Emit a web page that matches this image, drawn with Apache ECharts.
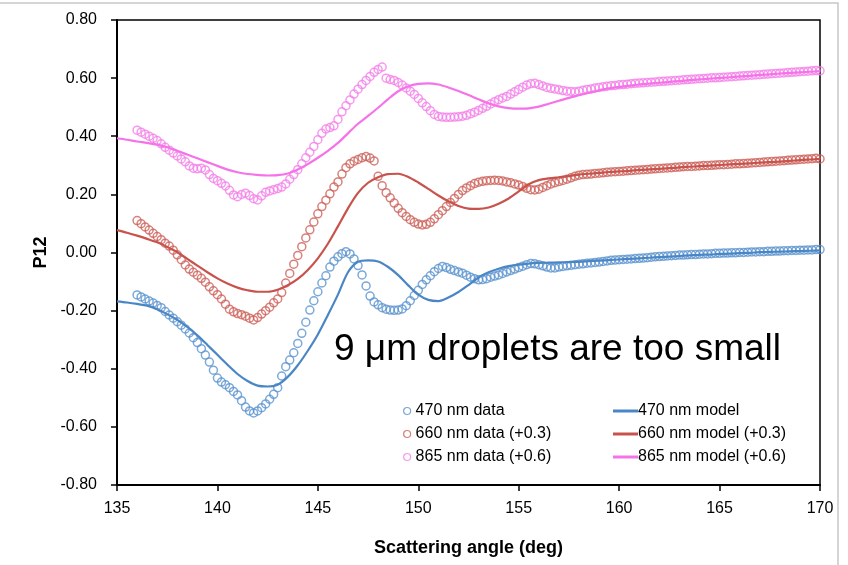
<!DOCTYPE html>
<html>
<head>
<meta charset="utf-8">
<script src="https://cdn.jsdelivr.net/npm/echarts@6/dist/echarts.min.js"></script>
<style>
html,body{margin:0;padding:0;background:#fff;}
#chart{width:848px;height:565px;}
</style>
</head>
<body>
<div id="chart"></div>
<script>
// ---- data ----
const seriesNames = ['470 nm data', '660 nm data (+0.3)', '865 nm data (+0.6)',
                     '470 nm model', '660 nm model (+0.3)', '865 nm model (+0.6)'];
const xTicks = [135, 140, 145, 150, 155, 160, 165, 170];
const yTicks = [-0.8, -0.6, -0.4, -0.2, 0, 0.2, 0.4, 0.6, 0.8];

// measured data: angles start at 136.0 deg, every 0.2 deg, up to 170.0 deg
const dataAngleStart = 136.0, dataAngleStep = 0.2;
const data470 = [
-0.146,-0.153,-0.160,-0.167,-0.174,-0.182,-0.190,-0.203,-0.215,-0.226,
-0.238,-0.250,-0.263,-0.277,-0.293,-0.310,-0.331,-0.353,-0.377,-0.405,
-0.432,-0.446,-0.455,-0.465,-0.478,-0.490,-0.510,-0.532,-0.545,-0.552,
-0.545,-0.534,-0.521,-0.505,-0.488,-0.465,-0.425,-0.393,-0.370,-0.345,
-0.313,-0.278,-0.240,-0.198,-0.166,-0.135,-0.105,-0.080,-0.050,-0.030,
-0.015,-0.004,0.003,-0.005,-0.022,-0.045,-0.077,-0.115,-0.150,-0.170,
-0.180,-0.190,-0.195,-0.198,-0.199,-0.198,-0.194,-0.183,-0.166,-0.148,
-0.130,-0.110,-0.094,-0.080,-0.066,-0.055,-0.048,-0.052,-0.058,-0.062,
-0.067,-0.071,-0.078,-0.085,-0.090,-0.094,-0.093,-0.090,-0.085,-0.081,
-0.077,-0.072,-0.067,-0.062,-0.057,-0.052,-0.047,-0.042,-0.038,-0.039,
-0.042,-0.046,-0.050,-0.053,-0.053,-0.050,-0.048,-0.046,-0.044,-0.042,
-0.040,-0.039,-0.037,-0.036,-0.034,-0.033,-0.031,-0.029,-0.027,-0.026,
-0.025,-0.024,-0.023,-0.022,-0.021,-0.020,-0.019,-0.018,-0.016,-0.015,
-0.014,-0.013,-0.012,-0.011,-0.010,-0.009,-0.009,-0.008,-0.007,-0.007,
-0.006,-0.005,-0.005,-0.004,-0.003,-0.003,-0.002,-0.002,-0.001,-0.001,
0.000,0.000,0.001,0.002,0.002,0.003,0.003,0.004,0.004,0.005,
0.005,0.006,0.006,0.007,0.007,0.008,0.008,0.009,0.009,0.010,
0.010];
const data660 = [
0.110,0.099,0.088,0.077,0.066,0.055,0.044,0.032,0.022,0.008,
-0.008,-0.025,-0.043,-0.057,-0.068,-0.078,-0.089,-0.102,-0.118,-0.132,
-0.145,-0.160,-0.178,-0.195,-0.204,-0.210,-0.214,-0.219,-0.226,-0.232,
-0.224,-0.212,-0.200,-0.188,-0.173,-0.160,-0.138,-0.105,-0.072,-0.040,
-0.010,0.020,0.050,0.078,0.105,0.133,0.158,0.180,0.202,0.225,
0.243,0.270,0.292,0.305,0.314,0.320,0.326,0.330,0.325,0.315,
0.262,0.230,0.206,0.188,0.170,0.152,0.137,0.124,0.113,0.104,
0.098,0.095,0.097,0.104,0.116,0.130,0.144,0.158,0.172,0.186,
0.200,0.213,0.222,0.230,0.237,0.242,0.245,0.247,0.248,0.249,
0.248,0.246,0.243,0.240,0.236,0.232,0.227,0.221,0.216,0.215,
0.218,0.224,0.230,0.236,0.240,0.244,0.248,0.252,0.257,0.262,
0.266,0.268,0.269,0.270,0.272,0.273,0.274,0.276,0.277,0.278,
0.279,0.280,0.281,0.282,0.283,0.284,0.285,0.286,0.287,0.288,
0.289,0.290,0.291,0.292,0.293,0.294,0.295,0.296,0.296,0.297,
0.298,0.299,0.299,0.300,0.301,0.302,0.302,0.303,0.304,0.305,
0.305,0.306,0.307,0.308,0.309,0.310,0.311,0.312,0.313,0.314,
0.315,0.316,0.317,0.318,0.319,0.320,0.321,0.322,0.323,0.324,
0.322];
const data865 = [
0.421,0.414,0.407,0.400,0.393,0.385,0.374,0.362,0.352,0.342,
0.332,0.322,0.312,0.298,0.290,0.288,0.290,0.284,0.268,0.255,
0.247,0.238,0.229,0.214,0.198,0.192,0.200,0.204,0.196,0.185,
0.181,0.195,0.207,0.212,0.216,0.220,0.225,0.236,0.252,0.268,
0.285,0.305,0.326,0.345,0.365,0.388,0.410,0.425,0.430,0.436,
0.458,0.484,0.505,0.525,0.545,0.562,0.578,0.592,0.606,0.620,
0.630,0.638,0.600,0.595,0.592,0.585,0.576,0.566,0.555,0.544,
0.530,0.515,0.502,0.488,0.475,0.468,0.466,0.465,0.465,0.466,
0.467,0.469,0.472,0.477,0.483,0.489,0.496,0.503,0.511,0.519,
0.526,0.532,0.537,0.545,0.553,0.561,0.569,0.576,0.581,0.582,
0.578,0.573,0.568,0.565,0.563,0.560,0.557,0.555,0.554,0.553,
0.555,0.558,0.561,0.563,0.566,0.568,0.570,0.572,0.574,0.575,
0.577,0.578,0.579,0.581,0.582,0.583,0.584,0.585,0.586,0.587,
0.588,0.589,0.590,0.591,0.592,0.593,0.594,0.595,0.596,0.597,
0.598,0.599,0.600,0.601,0.601,0.602,0.603,0.604,0.605,0.606,
0.607,0.608,0.609,0.610,0.611,0.612,0.613,0.614,0.615,0.616,
0.617,0.618,0.619,0.620,0.621,0.622,0.623,0.624,0.625,0.626,
0.625];

// model curves: angles start at 135.0 deg, every 0.5 deg, up to 170.0 deg
const modelAngleStart = 135.0, modelAngleStep = 0.5;
const model470 = [
-0.168,-0.172,-0.177,-0.183,-0.195,-0.212,-0.232,-0.256,-0.285,-0.318,
-0.352,-0.386,-0.418,-0.442,-0.458,-0.461,-0.455,-0.428,-0.388,-0.338,
-0.282,-0.215,-0.145,-0.068,-0.032,-0.027,-0.031,-0.050,-0.078,-0.113,
-0.145,-0.163,-0.167,-0.155,-0.136,-0.112,-0.086,-0.068,-0.056,-0.047,
-0.042,-0.038,-0.036,-0.035,-0.034,-0.033,-0.032,-0.030,-0.028,-0.026,
-0.024,-0.022,-0.020,-0.018,-0.016,-0.014,-0.012,-0.010,-0.008,-0.007,
-0.005,-0.004,-0.002,-0.001,0.001,0.002,0.003,0.004,0.005,0.006,
0.007];
const model660 = [
0.077,0.068,0.058,0.047,0.035,0.019,0.001,-0.022,-0.045,-0.068,
-0.089,-0.107,-0.121,-0.130,-0.135,-0.135,-0.128,-0.113,-0.091,-0.060,
-0.020,0.030,0.090,0.152,0.205,0.240,0.259,0.270,0.271,0.260,
0.241,0.219,0.196,0.176,0.160,0.151,0.150,0.155,0.168,0.186,
0.210,0.235,0.249,0.255,0.259,0.263,0.268,0.271,0.274,0.277,
0.279,0.281,0.284,0.286,0.288,0.290,0.293,0.295,0.297,0.299,
0.301,0.303,0.305,0.307,0.309,0.311,0.313,0.315,0.318,0.320,
0.322];
const model865 = [
0.393,0.388,0.382,0.377,0.371,0.362,0.350,0.337,0.324,0.311,
0.298,0.285,0.276,0.270,0.267,0.265,0.266,0.272,0.286,0.304,
0.326,0.350,0.377,0.410,0.443,0.470,0.498,0.528,0.555,0.572,
0.580,0.582,0.578,0.568,0.556,0.542,0.527,0.513,0.503,0.497,
0.495,0.496,0.502,0.512,0.522,0.532,0.541,0.550,0.558,0.565,
0.570,0.574,0.578,0.581,0.584,0.587,0.590,0.593,0.596,0.598,
0.601,0.603,0.606,0.608,0.611,0.613,0.616,0.618,0.620,0.622,
0.624];

const lineColors = ['#4A86C5', '#C8524C', '#F572E8'];
const dotColors  = ['#5B93CE', '#CD625A', '#F47FE9'];

// ---- build ----
function pairs(start, step, vals) {
  return vals.map((v, i) => [+(start + i * step).toFixed(2), v]);
}
const dataSets = [data470, data660, data865];
const modelSets = [model470, model660, model865];

const FONT = 'Liberation Sans, Arial, sans-serif';
const series = [];
dataSets.forEach((vals, k) => {
  series.push({
    name: seriesNames[k], type: 'scatter', z: 2,
    data: pairs(dataAngleStart, dataAngleStep, vals),
    symbol: 'circle', symbolSize: 8,
    itemStyle: { color: 'rgba(255,255,255,0)', borderColor: dotColors[k], borderWidth: 1.5 },
    emphasis: { disabled: true }, animation: false
  });
});
modelSets.forEach((vals, k) => {
  series.push({
    name: seriesNames[k + 3], type: 'line', z: 3,
    data: pairs(modelAngleStart, modelAngleStep, vals),
    symbol: 'none', smooth: 0.3,
    lineStyle: { color: lineColors[k], width: 2.2 },
    itemStyle: { color: lineColors[k] },
    emphasis: { disabled: true }, animation: false
  });
});

const chart = echarts.init(document.getElementById('chart'), null, { renderer: 'canvas' });
chart.setOption({
  backgroundColor: '#fff',
  animation: false,
  grid: { left: 117, right: 28, top: 20, bottom: 80, show: true, borderColor: '#000', borderWidth: 1.5, backgroundColor: 'transparent' },
  xAxis: {
    type: 'value', min: xTicks[0], max: xTicks[xTicks.length - 1], interval: 5,
    name: 'Scattering angle (deg)', nameLocation: 'middle', nameGap: 54,
    nameTextStyle: { fontFamily: FONT, fontSize: 18, fontWeight: 'bold', color: '#000' },
    axisLine: { show: true, onZero: false, lineStyle: { color: '#000', width: 2 } },
    axisTick: { show: true, length: 6, lineStyle: { color: '#000', width: 1.5 } },
    axisLabel: { fontFamily: FONT, fontSize: 16, color: '#000', margin: 16, formatter: v => String(v) },
    splitLine: { show: false }
  },
  yAxis: {
    type: 'value', min: yTicks[0], max: yTicks[yTicks.length - 1], interval: 0.2,
    name: 'P12', nameLocation: 'middle', nameGap: 64, nameRotate: 90,
    nameTextStyle: { fontFamily: FONT, fontSize: 18, fontWeight: 'bold', color: '#000' },
    axisLine: { show: true, onZero: false, lineStyle: { color: '#000', width: 2 } },
    axisTick: { show: true, length: 6, lineStyle: { color: '#000', width: 1.5 } },
    axisLabel: { fontFamily: FONT, fontSize: 16, color: '#000', margin: 20, formatter: v => v.toFixed(2) },
    splitLine: { show: false }
  },
  legend: [
    {
      orient: 'vertical', left: 398, top: 398, itemGap: 7, itemWidth: 7, itemHeight: 7,
      textStyle: { fontFamily: FONT, fontSize: 16, color: '#000', lineHeight: 16 },
      selectedMode: false,
      data: [0, 1, 2].map(k => ({ name: seriesNames[k], icon: 'circle',
        itemStyle: { color: '#fff', borderColor: dotColors[k], borderWidth: 1.2 } }))
    },
    {
      orient: 'vertical', left: 608, top: 398, itemGap: 7, itemWidth: 25, itemHeight: 3,
      textStyle: { fontFamily: FONT, fontSize: 16, color: '#000', lineHeight: 16, padding: [0, 0, 0, -5] },
      selectedMode: false,
      data: [3, 4, 5].map(k => ({ name: seriesNames[k], icon: 'rect',
        itemStyle: { color: lineColors[k - 3] } }))
    }
  ],
  graphic: [
    { type: 'rect', silent: true, z: -1, shape: { x: -5, y: 3, width: 843, height: 600 },
      style: { fill: 'none', stroke: '#c8c8c8', lineWidth: 1.5 } },
    { type: 'text', left: 334, top: 331, silent: true,
      style: { text: '9 \u03BCm droplets are too small', fontFamily: FONT, fontSize: 37, fill: '#000' } }
  ],
  series: series
});
</script>
</body>
</html>
